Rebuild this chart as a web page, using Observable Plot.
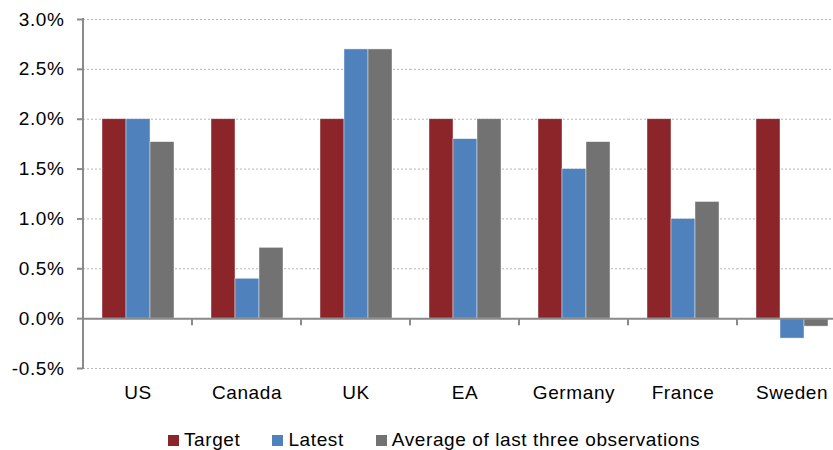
<!DOCTYPE html>
<html>
<head>
<meta charset="utf-8">
<script src="https://cdn.jsdelivr.net/npm/d3@7"></script>
<script src="https://cdn.jsdelivr.net/npm/@observablehq/plot@0.6"></script>
<style>
  html, body { margin: 0; padding: 0; background: #fff; overflow: hidden; }
  body { width: 833px; height: 450px; position: relative; font-family: "Liberation Sans", Arial, sans-serif; }
  #chart svg text { letter-spacing: 0.6px; }
  #legend { position: absolute; top: 430px; left: 168px; display: flex; align-items: center;
            font-size: 19px; line-height: 19px; letter-spacing: 0.6px; color: #000; white-space: nowrap; }
  #legend .item { display: flex; align-items: center; margin-right: 32px; }
  #legend .sw { width: 11px; height: 11px; margin-right: 5px; margin-top: 1px; }
</style>
</head>
<body>
<div id="chart"></div>
<div id="legend"></div>
<script>
const categories = ["US", "Canada", "UK", "EA", "Germany", "France", "Sweden"];
const seriesNames = ["Target", "Latest", "Average of last three observations"];
const target  = [2.0, 2.0, 2.0, 2.0, 2.0, 2.0, 2.0];
const latest  = [2.0, 0.4, 2.7, 1.8, 1.5, 1.0, -0.2];
const average = [1.77, 0.71, 2.7, 2.0, 1.77, 1.17, -0.08];
const yTicks = [-0.5, 0, 0.5, 1.0, 1.5, 2.0, 2.5, 3.0];
const colors = ["#8B2529", "#4F81BD", "#727272"];

const seriesValues = [target, latest, average];
const rows = [];
categories.forEach((c, i) => {
  seriesNames.forEach((s, j) => rows.push({cat: c, series: s, value: seriesValues[j][i]}));
});

const axisGray = "#8a8a8a";

const chart = Plot.plot({
  width: 833,
  height: 415,
  marginLeft: 82,
  marginRight: -13,
  marginTop: 19,
  marginBottom: 47,
  style: {fontFamily: "'Liberation Sans', Arial, sans-serif", fontSize: "19px", color: "#000", background: "#fff", overflow: "visible"},
  fx: {domain: categories, padding: 0, label: null},
  x: {domain: seriesNames, paddingInner: 0, paddingOuter: 0.75, axis: null},
  y: {domain: [-0.5, 3], label: null},
  color: {domain: seriesNames, range: colors},
  marks: [
    Plot.ruleY(yTicks, {stroke: "#b8b8b8", strokeWidth: 1, strokeDasharray: "2,2"}),
    Plot.barY(rows, {fx: "cat", x: "series", y: "value", fill: "series", stroke: "#fff", strokeOpacity: 0.6, strokeWidth: 0.7}),
    Plot.ruleY([0], {stroke: axisGray, strokeWidth: 2}),
    Plot.axisY({ticks: yTicks, tickFormat: d => d.toFixed(1) + "%", tickSize: 6, tickPadding: 13,
                stroke: axisGray, strokeWidth: 2, strokeOpacity: 1, fill: "#000", fontSize: 19, label: null}),
    Plot.axisFx({anchor: "bottom", tickSize: 0, tickPadding: 17, fill: "#000", fontSize: 19, label: null})
  ]
});

document.getElementById("chart").appendChild(chart);

// y-axis line and category boundary ticks, drawn from the plot's own scales
const fx = chart.scale("fx");
const y = chart.scale("y");
const svg = d3.select(chart);
const g = svg.append("g").attr("stroke", axisGray).attr("stroke-width", 2);
g.append("line")
  .attr("x1", fx.apply(categories[0])).attr("x2", fx.apply(categories[0]))
  .attr("y1", y.apply(yTicks[yTicks.length - 1]) - 1).attr("y2", y.apply(yTicks[0]) + 1);
const bounds = categories.map(c => fx.apply(c)).concat([fx.apply(categories[categories.length - 1]) + fx.step]);
bounds.forEach(b => {
  g.append("line").attr("x1", b).attr("x2", b).attr("y1", y.apply(0)).attr("y2", y.apply(0) + 7);
});

// legend
const legend = document.getElementById("legend");
seriesNames.forEach((s, i) => {
  const item = document.createElement("div");
  item.className = "item";
  const sw = document.createElement("span");
  sw.className = "sw";
  sw.style.background = colors[i];
  const t = document.createElement("span");
  t.textContent = s;
  item.appendChild(sw);
  item.appendChild(t);
  legend.appendChild(item);
});
</script>
</body>
</html>
